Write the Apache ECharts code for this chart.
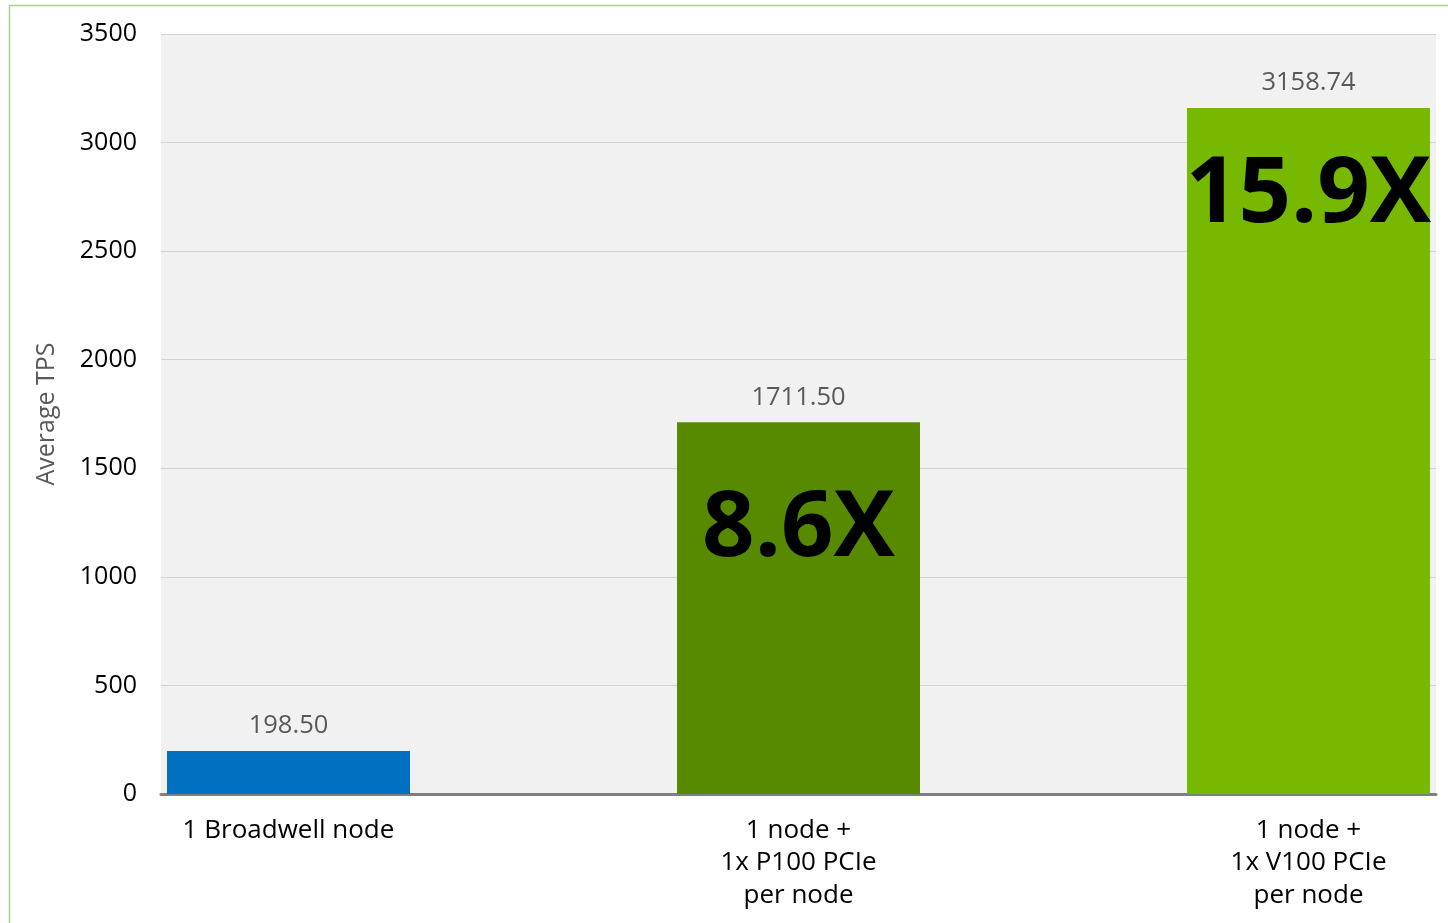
<!DOCTYPE html>
<html>
<head>
<meta charset="utf-8">
<script src="https://cdn.jsdelivr.net/npm/echarts@6/dist/echarts.min.js"></script>
<style>
html,body{margin:0;padding:0;background:#fff;}
#chart{width:1448px;height:923px;}
</style>
</head>
<body>
<div id="chart"></div>
<script>
const categories = ['1 Broadwell node', '1 node +\n1x P100 PCIe\nper node', '1 node +\n1x V100 PCIe\nper node'];
const values = [198.50, 1711.50, 3158.74];
const speedups = ['', '8.6X', '15.9X'];
const barColors = ['#0070c0', '#578a00', '#76b900'];
const yTicks = {min: 0, max: 3500, interval: 500};

// bars sit on every other slot of a 5-slot category axis
const axisCats = [];
const valueData = [];
const speedData = [];
categories.forEach((c, i) => {
  if (i > 0) { axisCats.push(''); valueData.push('-'); speedData.push('-'); }
  axisCats.push(c);
  valueData.push({value: values[i], itemStyle: {color: barColors[i]}});
  speedData.push({
    value: values[i],
    label: {offset: [0, i === 1 ? 56 : 37]}
  });
});

const font = '"Open Sans", "Noto Sans", sans-serif';
const chart = echarts.init(document.getElementById('chart'), null, {renderer: 'canvas'});
chart.setOption({
  backgroundColor: '#ffffff',
  animation: false,
  graphic: [{
    type: 'rect',
    shape: {x: 9.5, y: 5.5, width: 1460, height: 1000},
    style: {fill: 'none', stroke: '#a9d18e', lineWidth: 1.5},
    z: 100
  }],
  grid: {
    left: 161, top: 34, width: 1275, height: 760,
    show: true, backgroundColor: '#f1f1f1', borderWidth: 0
  },
  xAxis: {
    type: 'category',
    data: axisCats,
    axisTick: {show: false},
    axisLine: {show: true, lineStyle: {color: '#7f7f7f', width: 3}},
    axisLabel: {
      interval: 0, color: '#000', fontSize: 26, fontFamily: font,
      lineHeight: 32.5, margin: 20, align: 'center'
    }
  },
  yAxis: {
    type: 'value',
    min: yTicks.min, max: yTicks.max, interval: yTicks.interval,
    name: 'Average TPS',
    nameLocation: 'middle',
    nameGap: 102,
    nameTextStyle: {color: '#595959', fontSize: 25, fontFamily: font},
    axisLine: {show: false},
    axisTick: {show: false},
    axisLabel: {color: '#000', fontSize: 25, fontFamily: font, margin: 24,
      formatter: v => String(v)},
    splitLine: {show: true, lineStyle: {color: '#d2d2d2', width: 1}}
  },
  series: [{
    type: 'bar',
    data: valueData,
    barWidth: 243,
    label: {
      show: true, position: 'top', distance: 12,
      color: '#595959', fontSize: 25.5, fontFamily: font,
      formatter: p => Number(p.value).toFixed(2)
    },
    z: 2
  }, {
    type: 'bar',
    data: speedData,
    barWidth: 243,
    barGap: '-100%',
    itemStyle: {color: 'rgba(0,0,0,0)'},
    label: {
      show: true, position: 'insideTop',
      color: '#000', fontSize: 92, fontWeight: 'bold', fontFamily: font,
      formatter: p => speedups[Math.floor(p.dataIndex / 2)]
    },
    z: 3
  }]
});
</script>
</body>
</html>
